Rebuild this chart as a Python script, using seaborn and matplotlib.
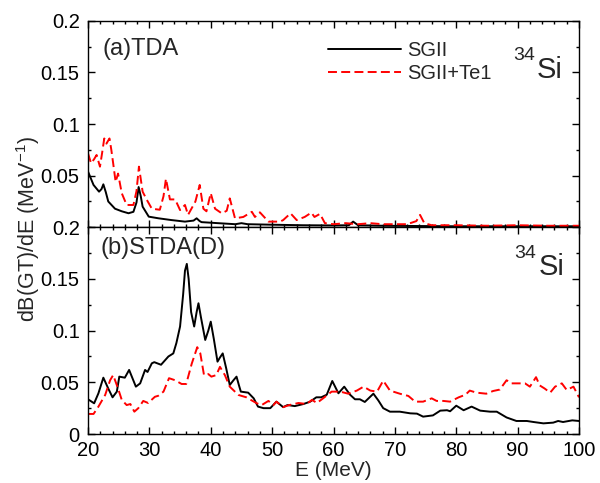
import matplotlib
matplotlib.use("Agg")
import matplotlib.pyplot as plt
from matplotlib.ticker import MultipleLocator, FixedLocator, FixedFormatter
import numpy as np
import pandas as pd
import seaborn as sns

# ---- Gamow-Teller strength distributions of 34Si ----
# (a) TDA, SGII
tda_sgii_E = [20, 20.9, 21.8, 22.2, 22.5, 22.9, 23.3, 24.4, 25.5, 26.6, 27.4, 27.9,
              28.25, 28.6, 28.9, 29.9, 31.5, 33.6, 35.8, 37.2, 37.7, 38.2, 38.5, 41.2,
              44, 45, 46, 50, 55, 60, 62.5, 63.2, 64, 68, 75, 80, 90, 100]
tda_sgii_S = [0.054, 0.041, 0.0345, 0.037, 0.0416, 0.034, 0.025, 0.018, 0.0155, 0.0136, 0.015, 0.024,
              0.039, 0.03, 0.02, 0.0103, 0.0087, 0.007, 0.0055, 0.0065, 0.0087, 0.006, 0.005, 0.004,
              0.003, 0.004, 0.003, 0.0025, 0.002, 0.0018, 0.002, 0.0055, 0.002, 0.0015, 0.0012, 0.001, 0.001, 0.001]

# (a) TDA, SGII+Te1
tda_te1_E = [20, 20.5, 21.0, 21.4, 21.95, 22.3, 22.65, 23.0, 23.5, 23.8,
             24.1, 24.5, 24.9, 25.5, 26.3, 27.4, 27.9, 28.3, 28.9, 29.6,
             30.4, 31.7, 32.3, 32.7, 33.35, 34.2, 35.0, 35.8, 36.3, 37.5,
             38.2, 38.8, 39.3, 40.0, 40.7, 41.8, 42.6, 43.1, 43.95, 45.3,
             46.7, 47.2, 48.0, 49.4, 51.3, 51.8, 53.0, 54.0, 55.3, 56.4,
             56.9, 57.8, 58.6, 60, 62, 64, 66, 68, 70, 72,
             73.5, 74.1, 74.8, 76, 80, 85, 90, 95, 100]
tda_te1_S = [0.0716, 0.062, 0.066, 0.07, 0.0587, 0.072, 0.086, 0.081, 0.086, 0.075,
             0.062, 0.044, 0.052, 0.033, 0.0216, 0.0216, 0.035, 0.0587, 0.0345, 0.0264,
             0.018, 0.017, 0.03, 0.047, 0.027, 0.027, 0.0167, 0.0216, 0.012, 0.025,
             0.041, 0.018, 0.0155, 0.033, 0.018, 0.0135, 0.016, 0.028, 0.0087, 0.010,
             0.015, 0.010, 0.0145, 0.0055, 0.0055, 0.007, 0.0135, 0.007, 0.010, 0.0142,
             0.010, 0.013, 0.004, 0.003, 0.004, 0.003, 0.004, 0.003, 0.003, 0.003,
             0.006, 0.012, 0.004, 0.002, 0.002, 0.0015, 0.002, 0.0015, 0.0015]

# (b) STDA(D), SGII
stda_sgii_E = [20, 21.0, 21.7, 22.5, 23.3, 24.0, 24.7, 25.1, 26.0, 26.7,
               27.8, 28.5, 29.3, 29.7, 30.4, 30.8, 31.9, 33.1, 33.9, 34.4,
               35.0, 35.5, 35.8, 36.1, 36.4, 36.8, 37.3, 37.7, 38.0, 38.4,
               39.1, 39.6, 40.0, 40.5, 41.1, 41.5, 41.95, 42.5, 43.1, 43.7,
               44.2, 44.6, 44.9, 46.1, 47.0, 47.7, 48.6, 49.7, 50.7, 51.8,
               52.5, 53.7, 55.1, 56.2, 57.2, 58.0, 58.9, 59.8, 60.8, 61.75,
               62.7, 63.5, 64.3, 65.1, 66.5, 67.3, 68.1, 69.2, 70.8, 72.5,
               73.6, 74.6, 76.2, 77.4, 78.5, 79.0, 80.0, 81.2, 82.5, 83.9,
               85.5, 86.6, 88.2, 89.8, 91.5, 92.6, 94.2, 95.8, 96.6, 97.4,
               98.9, 100]
stda_sgii_S = [0.0336, 0.0297, 0.0394, 0.0545, 0.044, 0.0355, 0.041, 0.0555, 0.0545, 0.062,
               0.0458, 0.049, 0.062, 0.06, 0.0684, 0.0695, 0.067, 0.075, 0.078, 0.088,
               0.104, 0.135, 0.158, 0.1646, 0.15, 0.118, 0.104, 0.118, 0.1265, 0.113,
               0.091, 0.1, 0.1087, 0.092, 0.07, 0.074, 0.078, 0.064, 0.0474, 0.052,
               0.0555, 0.047, 0.041, 0.040, 0.0345, 0.0265, 0.025, 0.025, 0.0313, 0.026,
               0.028, 0.027, 0.029, 0.0313, 0.0355, 0.0355, 0.038, 0.0513, 0.0394, 0.0458,
               0.038, 0.0336, 0.0336, 0.031, 0.039, 0.0325, 0.025, 0.0216, 0.0216, 0.020,
               0.0197, 0.0168, 0.018, 0.0226, 0.023, 0.022, 0.0274, 0.023, 0.0265, 0.0226,
               0.0216, 0.0216, 0.016, 0.0126, 0.0126, 0.0116, 0.0103, 0.011, 0.0126, 0.0116,
               0.0132, 0.0126]

# (b) STDA(D), SGII+Te1
stda_te1_E = [20, 20.9, 21.7, 22.8, 23.6, 24.1, 24.9, 25.5, 26.3, 26.9,
              27.55, 28.2, 29.0, 29.8, 30.9, 31.45, 32.3, 33.2, 34.2, 35.25,
              36.0, 36.9, 37.8, 38.3, 38.9, 39.6, 40.1, 40.9, 41.5, 42.3,
              43.1, 44.5, 45.8, 47.5, 48.3, 49.4, 50.2, 50.7, 51.8, 52.8,
              54.3, 55.6, 56.5, 57.3, 58.3, 59.7, 61.1, 62.4, 63.8, 64.9,
              66.0, 67.1, 68.1, 69.2, 70.8, 72.2, 73.3, 74.6, 76.0, 76.8,
              77.9, 79.0, 80.4, 81.5, 82.2, 83.3, 84.9, 86.0, 87.1, 88.2,
              89.0, 90.1, 91.2, 92.0, 93.0, 93.6, 94.4, 95.3, 96.1, 97.2,
              98.0, 99.1, 100]
stda_te1_S = [0.0194, 0.0194, 0.0265, 0.0378, 0.052, 0.057, 0.044, 0.033, 0.028, 0.029,
              0.0216, 0.025, 0.032, 0.030, 0.036, 0.037, 0.041, 0.054, 0.052, 0.0484,
              0.0484, 0.068, 0.084, 0.078, 0.057, 0.058, 0.0555, 0.057, 0.065, 0.057,
              0.0458, 0.0378, 0.0355, 0.0297, 0.028, 0.032, 0.028, 0.0313, 0.026, 0.028,
              0.030, 0.029, 0.033, 0.030, 0.0345, 0.041, 0.041, 0.039, 0.042, 0.0458,
              0.042, 0.041, 0.0516, 0.042, 0.039, 0.0368, 0.0313, 0.0313, 0.0345, 0.032,
              0.032, 0.0313, 0.0355, 0.038, 0.042, 0.040, 0.039, 0.0416, 0.043, 0.052,
              0.049, 0.049, 0.049, 0.0458, 0.055, 0.047, 0.044, 0.040, 0.0458, 0.049,
              0.0426, 0.0458, 0.0355]

series_labels = ["SGII", "SGII+Te1"]
panel_titles = ["(a)TDA", "(b)STDA(D)"]
nucleus_mass = "34"
nucleus_symbol = "Si"

sns.set_style("ticks")
plt.rcParams["font.family"] = ["Liberation Sans", "DejaVu Sans"]
plt.rcParams["mathtext.fontset"] = "custom"
plt.rcParams["mathtext.rm"] = "Liberation Sans"
plt.rcParams["mathtext.it"] = "Liberation Sans:italic"
plt.rcParams["axes.linewidth"] = 1.0
plt.rcParams["axes.edgecolor"] = "black"

fig = plt.figure(figsize=(6.0, 4.83), dpi=100)
left, right = 88 / 600, 579 / 600
y_bot, y_mid, y_top = 1 - 434 / 483, 1 - 227.3 / 483, 1 - 20.7 / 483
ax_a = fig.add_axes([left, y_mid, right - left, y_top - y_mid])
ax_b = fig.add_axes([left, y_bot, right - left, y_mid - y_bot], sharex=ax_a)

dash = (0, (4.6, 2.2))
line_kw = dict(linewidth=1.4)

def frame(E, S):
    return pd.DataFrame({"E": E, "S": S})

for ax, (bE, bS), (rE, rS) in [
    (ax_a, (tda_sgii_E, tda_sgii_S), (tda_te1_E, tda_te1_S)),
    (ax_b, (stda_sgii_E, stda_sgii_S), (stda_te1_E, stda_te1_S)),
]:
    sns.lineplot(data=frame(bE, bS), x="E", y="S", ax=ax, color="black",
                 label=series_labels[0], sort=False, **line_kw)
    sns.lineplot(data=frame(rE, rS), x="E", y="S", ax=ax, color="#ff0000",
                 label=series_labels[1], sort=False, linestyle=dash, **line_kw)

for ax in (ax_a, ax_b):
    ax.set_xlim(20, 100)
    ax.set_ylim(0, 0.2)
    ax.xaxis.set_major_locator(MultipleLocator(10))
    ax.xaxis.set_minor_locator(MultipleLocator(2))
    ax.yaxis.set_minor_locator(MultipleLocator(0.025))
    ax.tick_params(which="both", direction="in", top=True, right=True,
                   labelsize=14.5, width=1.0, pad=6, color="black",
                   labelcolor="black")
    ax.tick_params(which="major", length=5)
    ax.tick_params(which="minor", length=2.5)
    ax.set_xlabel("")
    ax.set_ylabel("")

ax_a.yaxis.set_major_locator(FixedLocator([0.05, 0.1, 0.15, 0.2]))
ax_a.yaxis.set_major_formatter(FixedFormatter(["0.05", "0.1", "0.15", "0.2"]))
ax_b.yaxis.set_major_locator(FixedLocator([0, 0.05, 0.1, 0.15, 0.2]))
ax_b.yaxis.set_major_formatter(FixedFormatter(["0", "0.05", "0.1", "0.15", "0.2"]))
ax_a.tick_params(axis="x", labelbottom=False)
ax_b.tick_params(axis="x", pad=5)

ax_b.get_legend().remove()
ax_a.legend(loc="upper left", bbox_to_anchor=(0.4888, 0.90), frameon=False,
            fontsize=14.5, handlelength=3.6, handletextpad=0.33, labelspacing=0.17,
            borderaxespad=0, borderpad=0)

ax_b.set_xlabel("E (MeV)", fontsize=15, labelpad=0.5)
fig.text(0.047, 1 - 229 / 483, "dB(GT)/dE (MeV$^{-1}$)", rotation=90,
         ha="center", va="center", fontsize=15.5)

ax_a.text(0.0305, 0.863, panel_titles[0], transform=ax_a.transAxes,
          fontsize=17, ha="left", va="center")
ax_b.text(0.026, 0.90, panel_titles[1], transform=ax_b.transAxes,
          fontsize=17, ha="left", va="center")

for ax, sx, sy, mx, my in [(ax_a, 0.9145, 0.7227, 0.8656, 0.809),
                           (ax_b, 0.9185, 0.769, 0.8676, 0.851)]:
    ax.text(sx, sy, nucleus_symbol, transform=ax.transAxes, fontsize=21,
            ha="left", va="baseline")
    ax.text(mx, my, nucleus_mass, transform=ax.transAxes, fontsize=14,
            ha="left", va="baseline")

fig.savefig("out.png", dpi=100)
